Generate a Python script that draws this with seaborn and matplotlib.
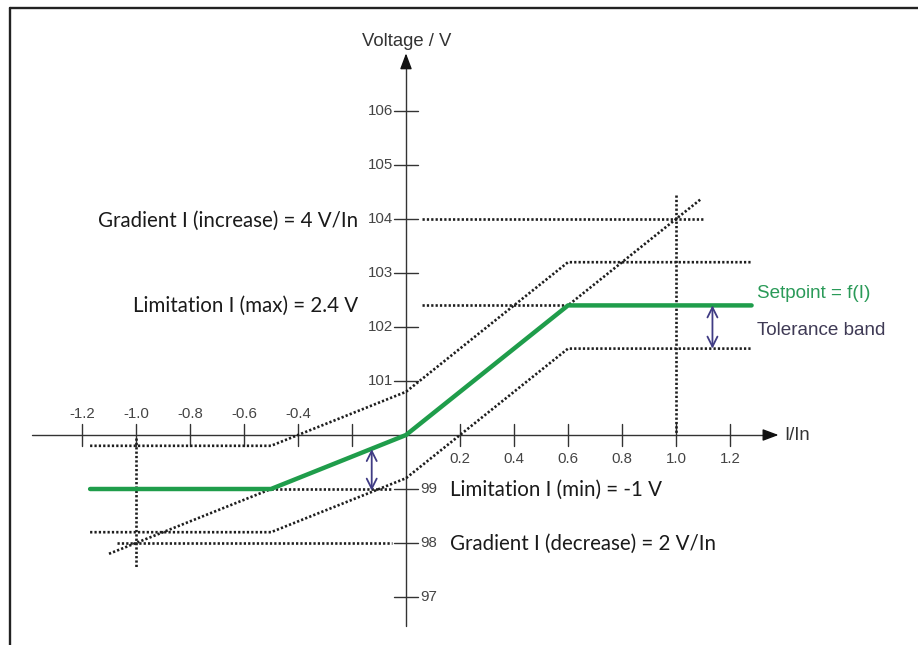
import matplotlib
matplotlib.use("Agg")
import matplotlib.pyplot as plt
from matplotlib.lines import Line2D
import seaborn as sns
import pandas as pd

# ---- data -------------------------------------------------------------
# setpoint characteristic V = f(I)
setpoint_I = [-1.17, -0.5, 0.0, 0.6, 1.28]
setpoint_V = [99.0, 99.0, 100.0, 102.4, 102.4]
tolerance = 0.8  # half-width of the tolerance band (V)

# gradient construction lines through the origin
grad_inc_I = [0.0, 1.09]
grad_inc_V = [100.0, 104.36]
grad_dec_I = [-1.10, 0.0]
grad_dec_V = [97.80, 100.0]

# axis ticks
x_ticks = [-1.2, -1.0, -0.8, -0.6, -0.4, -0.2, 0.2, 0.4, 0.6, 0.8, 1.0, 1.2]
x_tick_labels = ["-1.2", "-1.0", "-0.8", "-0.6", "-0.4", "", "0.2", "0.4", "0.6", "0.8", "1.0", "1.2"]
y_ticks = [97, 98, 99, 101, 102, 103, 104, 105, 106]
y_tick_labels = ["97", "98", "99", "101", "102", "103", "104", "105", "106"]

# ---- styling ----------------------------------------------------------
sns.set_theme(style="white")
plt.rcParams["font.family"] = ["Liberation Sans", "DejaVu Sans"]

GREEN = "#1f9d4b"
AXIS = "#333333"
DOT = "#1e1e1e"
ARROW = "#403c84"
dotted = dict(color=DOT, lw=1.9, linestyle=(0, (0.85, 0.8)), dash_capstyle="butt", zorder=2)

fig = plt.figure(figsize=(9.18, 6.45), dpi=100)
ax = fig.add_axes([0, 0, 1, 1])
ax.set_xlim(-1.5037, 1.8963)
ax.set_ylim(96.111, 108.056)
ax.axis("off")

# ---- coordinate axes --------------------------------------------------
ax.plot([-1.385, 1.36], [100, 100], color=AXIS, lw=1.0, zorder=1)
ax.plot([0, 0], [96.46, 106.9], color=AXIS, lw=1.0, zorder=1)
ax.annotate("", xy=(1.39, 100), xytext=(1.34, 100),
            arrowprops=dict(arrowstyle="-|>,head_length=0.8,head_width=0.3", color="#111111", lw=1.0))
ax.annotate("", xy=(0, 107.12), xytext=(0, 106.8),
            arrowprops=dict(arrowstyle="-|>,head_length=0.8,head_width=0.3", color="#111111", lw=1.0))

for xt, lab in zip(x_ticks, x_tick_labels):
    ax.plot([xt, xt], [99.79, 100.2], color=AXIS, lw=1.0, zorder=1)
    if xt < 0:
        ax.text(xt, 100.38, lab, ha="center", va="center", fontsize=10.8, color="#444444")
    else:
        ax.text(xt, 99.56, lab, ha="center", va="center", fontsize=10.8, color="#444444")

for yt, lab in zip(y_ticks, y_tick_labels):
    ax.plot([-0.045, 0.044], [yt, yt], color=AXIS, lw=1.0, zorder=1)
    if yt < 100:
        ax.text(0.052, yt, lab, ha="left", va="center", fontsize=10.8, color="#444444")
    else:
        ax.text(-0.049, yt, lab, ha="right", va="center", fontsize=10.8, color="#444444")

ax.text(0.004, 107.28, "Voltage / V", ha="center", va="center", fontsize=13.3, color="#333333")
ax.text(1.40, 100.0, "I/In", ha="left", va="center", fontsize=13.3, color="#333333")

# ---- construction lines ----------------------------------------------
ax.plot(grad_inc_I, grad_inc_V, **dotted)
ax.plot(grad_dec_I, grad_dec_V, **dotted)
ax.plot([0.06, 1.10], [104, 104], **dotted)
ax.plot([0.06, 0.6], [102.4, 102.4], **dotted)
ax.plot([-0.5, -0.05], [99, 99], **dotted)
ax.plot([-1.07, -0.05], [98, 98], **dotted)
ax.plot([-1.0, -1.0], [99.95, 97.55], **dotted)
ax.plot([1.0, 1.0], [104.45, 100.02], **dotted)

# tolerance band around the setpoint
band = pd.DataFrame({"I": setpoint_I,
                     "upper": [v + tolerance for v in setpoint_V],
                     "lower": [v - tolerance for v in setpoint_V]})
sns.lineplot(data=band, x="I", y="upper", ax=ax, estimator=None, **dotted)
sns.lineplot(data=band, x="I", y="lower", ax=ax, estimator=None, **dotted)

# setpoint characteristic
sp = pd.DataFrame({"I": setpoint_I, "V": setpoint_V})
sns.lineplot(data=sp, x="I", y="V", ax=ax, estimator=None, color=GREEN, lw=3.2, zorder=4)

# tolerance arrows
arrow_kw = dict(arrowstyle="<->,head_length=0.6,head_width=0.3", color=ARROW, lw=1.3, shrinkA=0, shrinkB=0)
ax.annotate("", xy=(-0.127, 98.97), xytext=(-0.127, 99.74), arrowprops=arrow_kw, zorder=5)
ax.annotate("", xy=(1.135, 101.6), xytext=(1.135, 102.4), arrowprops=arrow_kw, zorder=5)

# ---- annotations ------------------------------------------------------
big = dict(fontsize=14.8, color="#1a1a1a", family=["Lato", "DejaVu Sans"], va="center")
ax.text(-0.178, 103.97, "Gradient I (increase) = 4 V/In", ha="right", **big)
ax.text(-0.178, 102.39, "Limitation I (max) = 2.4 V", ha="right", **big)
ax.text(0.163, 98.98, "Limitation I (min) = -1 V", ha="left", **big)
ax.text(0.163, 97.98, "Gradient I (decrease) = 2 V/In", ha="left", **big)

ax.text(1.30, 102.62, "Setpoint = f(I)", ha="left", va="center", fontsize=13.6, color="#2a9a58")
ax.text(1.30, 101.94, "Tolerance band", ha="left", va="center", fontsize=13.6, color="#3f3a55")

# ---- frame ------------------------------------------------------------
fig.add_artist(Line2D([9.5 / 918, 1.0], [1 - 7.5 / 645] * 2, transform=fig.transFigure, color="#222222", lw=1.7))
fig.add_artist(Line2D([9.5 / 918] * 2, [0.0, 1 - 7.5 / 645], transform=fig.transFigure, color="#222222", lw=1.7))

fig.savefig("out.png", dpi=100, facecolor="white")
